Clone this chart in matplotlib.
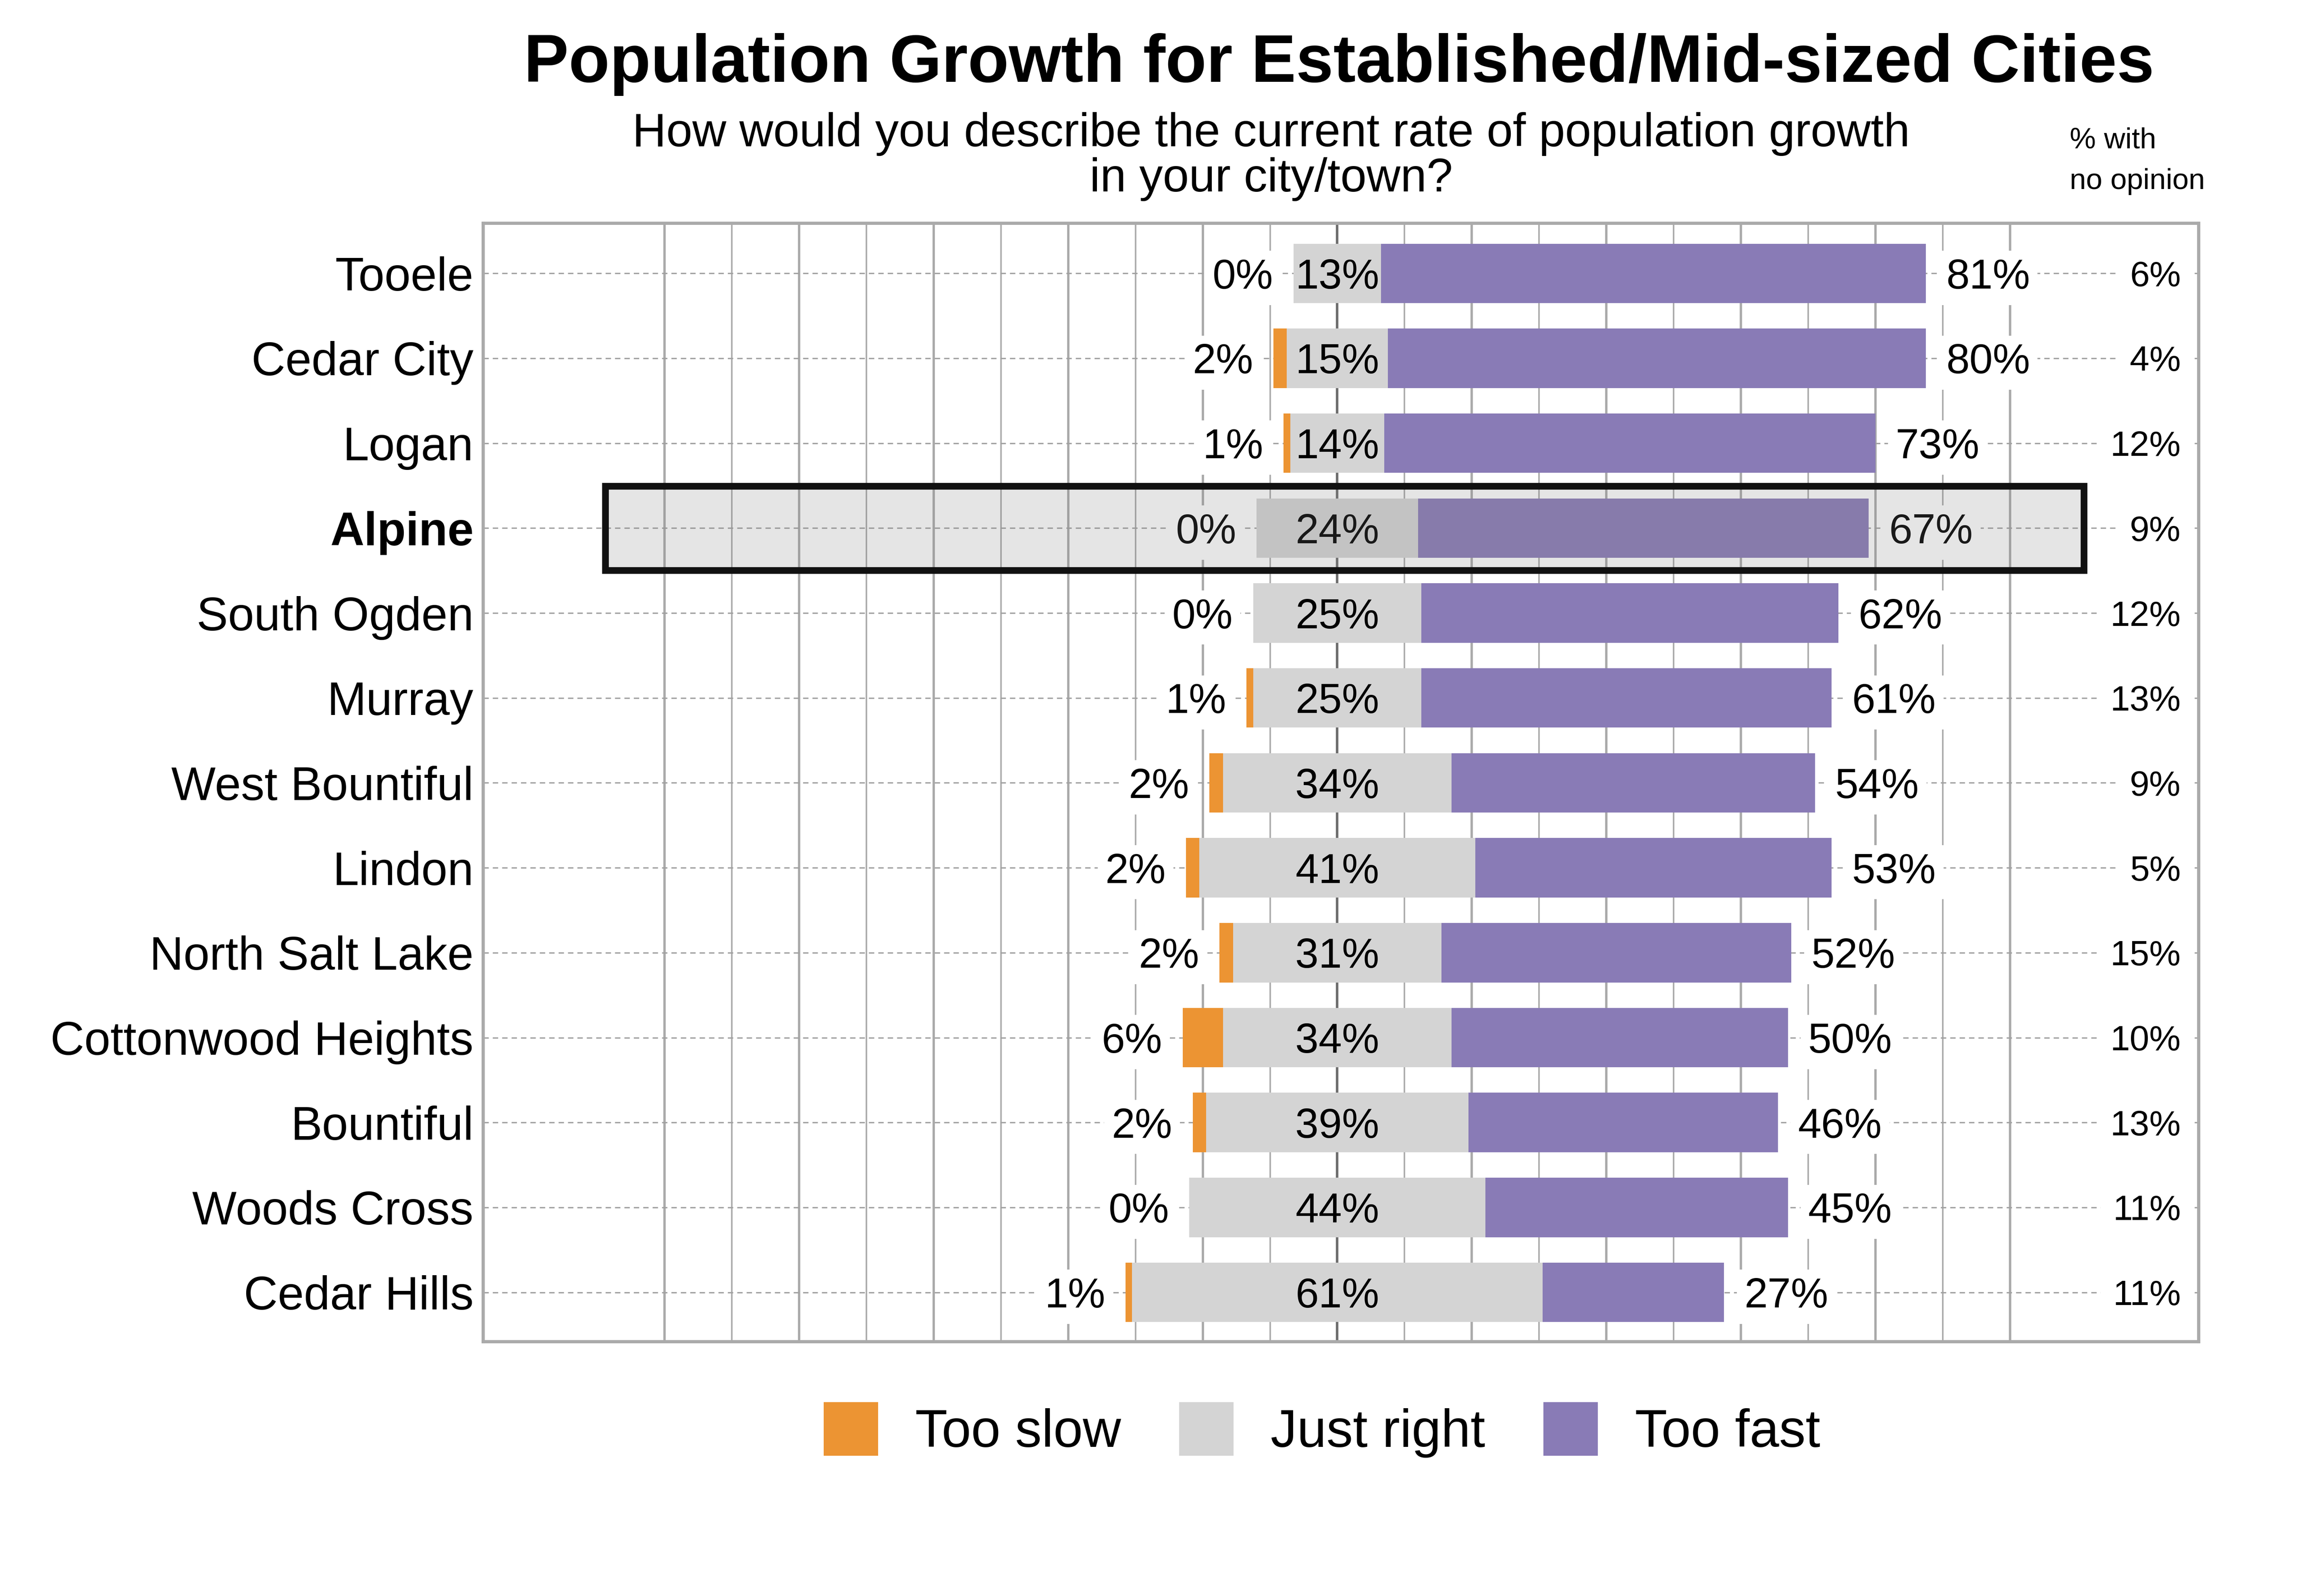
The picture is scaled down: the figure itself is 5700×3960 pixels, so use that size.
import matplotlib
matplotlib.use("Agg")
import matplotlib.pyplot as plt
from matplotlib.patches import Rectangle, Patch
import numpy as np

plt.rcParams['font.family'] = ['Liberation Sans', 'DejaVu Sans']

# ---------------- data ----------------
cities = ["Tooele", "Cedar City", "Logan", "Alpine", "South Ogden", "Murray",
          "West Bountiful", "Lindon", "North Salt Lake", "Cottonwood Heights",
          "Bountiful", "Woods Cross", "Cedar Hills"]
too_slow = [0, 2, 1, 0, 0, 1, 2, 2, 2, 6, 2, 0, 1]
just_right = [13, 15, 14, 24, 25, 25, 34, 41, 31, 34, 39, 44, 61]
too_fast = [81, 80, 73, 67, 62, 61, 54, 53, 52, 50, 46, 45, 27]
no_opinion = [6, 4, 12, 9, 12, 13, 9, 5, 15, 10, 13, 11, 11]
series_names = ["Too slow", "Just right", "Too fast"]
highlight = "Alpine"

title = "Population Growth for Established/Mid-sized Cities"
subtitle_lines = ["How would you describe the current rate of population growth",
                  "in your city/town?"]
header_lines = ["% with", "no opinion"]

# ---------------- style ----------------
C_SLOW = "#EC9433"
C_RIGHT = "#D4D4D4"
C_FAST = "#897BB6"
GRID = "#AAAAAA"

fig = plt.figure(figsize=(19, 13.2), dpi=300)
ax = fig.add_axes([0.2104, 0.1594, 0.7468, 0.7007])

ts = np.array(too_slow, float)
jr = np.array(just_right, float)
tf = np.array(too_fast, float)
y = np.arange(len(cities))

bar_h = 0.7
ax.barh(y, jr, left=-jr / 2, height=bar_h, color=C_RIGHT, zorder=2)
ax.barh(y, ts, left=-jr / 2 - ts, height=bar_h, color=C_SLOW, zorder=2)
ax.barh(y, tf, left=jr / 2, height=bar_h, color=C_FAST, zorder=2)

box = dict(boxstyle="square,pad=0.18", fc="white", ec="none")
off = 3.0
for i in range(len(cities)):
    ax.text(-jr[i] / 2 - ts[i] - off, y[i], f"{too_slow[i]}%", ha="right",
            va="center_baseline", fontsize=25, bbox=box, zorder=3)
    ax.text(0, y[i], f"{just_right[i]}%", ha="center", va="center_baseline",
            fontsize=25, zorder=3)
    ax.text(jr[i] / 2 + tf[i] + off, y[i], f"{too_fast[i]}%", ha="left",
            va="center_baseline", fontsize=25, bbox=box, zorder=3)
    ax.text(125.4, y[i], f"{no_opinion[i]}%", ha="right", va="center_baseline",
            fontsize=21, bbox=dict(boxstyle="square,pad=0.35", fc="white", ec="none"),
            zorder=3)

# axes limits & grid
ax.set_xlim(-126.95, 128.05)
ax.set_ylim(len(cities) - 1 + 0.58, -0.59)

ax.set_xticks(np.arange(-100, 101, 20))
ax.set_xticks(np.arange(-90, 100, 20), minor=True)
ax.set_axisbelow(True)
ax.grid(axis="x", which="major", color=GRID, lw=1.4, zorder=0.5)
ax.grid(axis="x", which="minor", color=GRID, lw=0.9, zorder=0.5)
ax.axvline(0, color="#6E6E6E", lw=1.5, zorder=0.6)
ax.grid(axis="y", color="#A0A0A0", lw=0.8, linestyle=(0, (4, 3)), zorder=0.5)
ax.tick_params(axis="x", which="both", length=0, labelbottom=False)
ax.tick_params(axis="y", length=0, pad=5.8)
ax.set_yticks(y)
ax.set_yticklabels(cities, fontsize=28)
for lab in ax.get_yticklabels():
    if lab.get_text() == highlight:
        lab.set_fontweight("bold")

for s in ax.spines.values():
    s.set_color(GRID)
    s.set_linewidth(1.9)

# highlight box
hi = cities.index(highlight)
ax.add_patch(Rectangle((-108.8, hi - 0.495), 219.8, 0.99,
                       facecolor=(0.5, 0.5, 0.5, 0.2), edgecolor="#111111",
                       lw=4.0, zorder=6))

# titles
fig.text(0.583, 0.9487, title, ha="center", va="baseline", fontsize=40, fontweight="bold")
fig.text(0.5534, 0.9083, subtitle_lines[0], ha="center", va="baseline", fontsize=28)
fig.text(0.5534, 0.8801, subtitle_lines[1], ha="center", va="baseline", fontsize=28)
fig.text(0.901, 0.9073, header_lines[0], ha="left", va="baseline", fontsize=17.5)
fig.text(0.901, 0.8816, header_lines[1], ha="left", va="baseline", fontsize=17.5)

# legend
handles = [Patch(facecolor=c, edgecolor="none") for c in (C_SLOW, C_RIGHT, C_FAST)]
fig.legend(handles, series_names, loc="center", bbox_to_anchor=(0.5755, 0.104), ncol=3,
           frameon=False, fontsize=31.5, handlelength=1.03, handleheight=1.18,
           handletextpad=0.7, columnspacing=1.1)

fig.savefig("out.png", dpi=300)
